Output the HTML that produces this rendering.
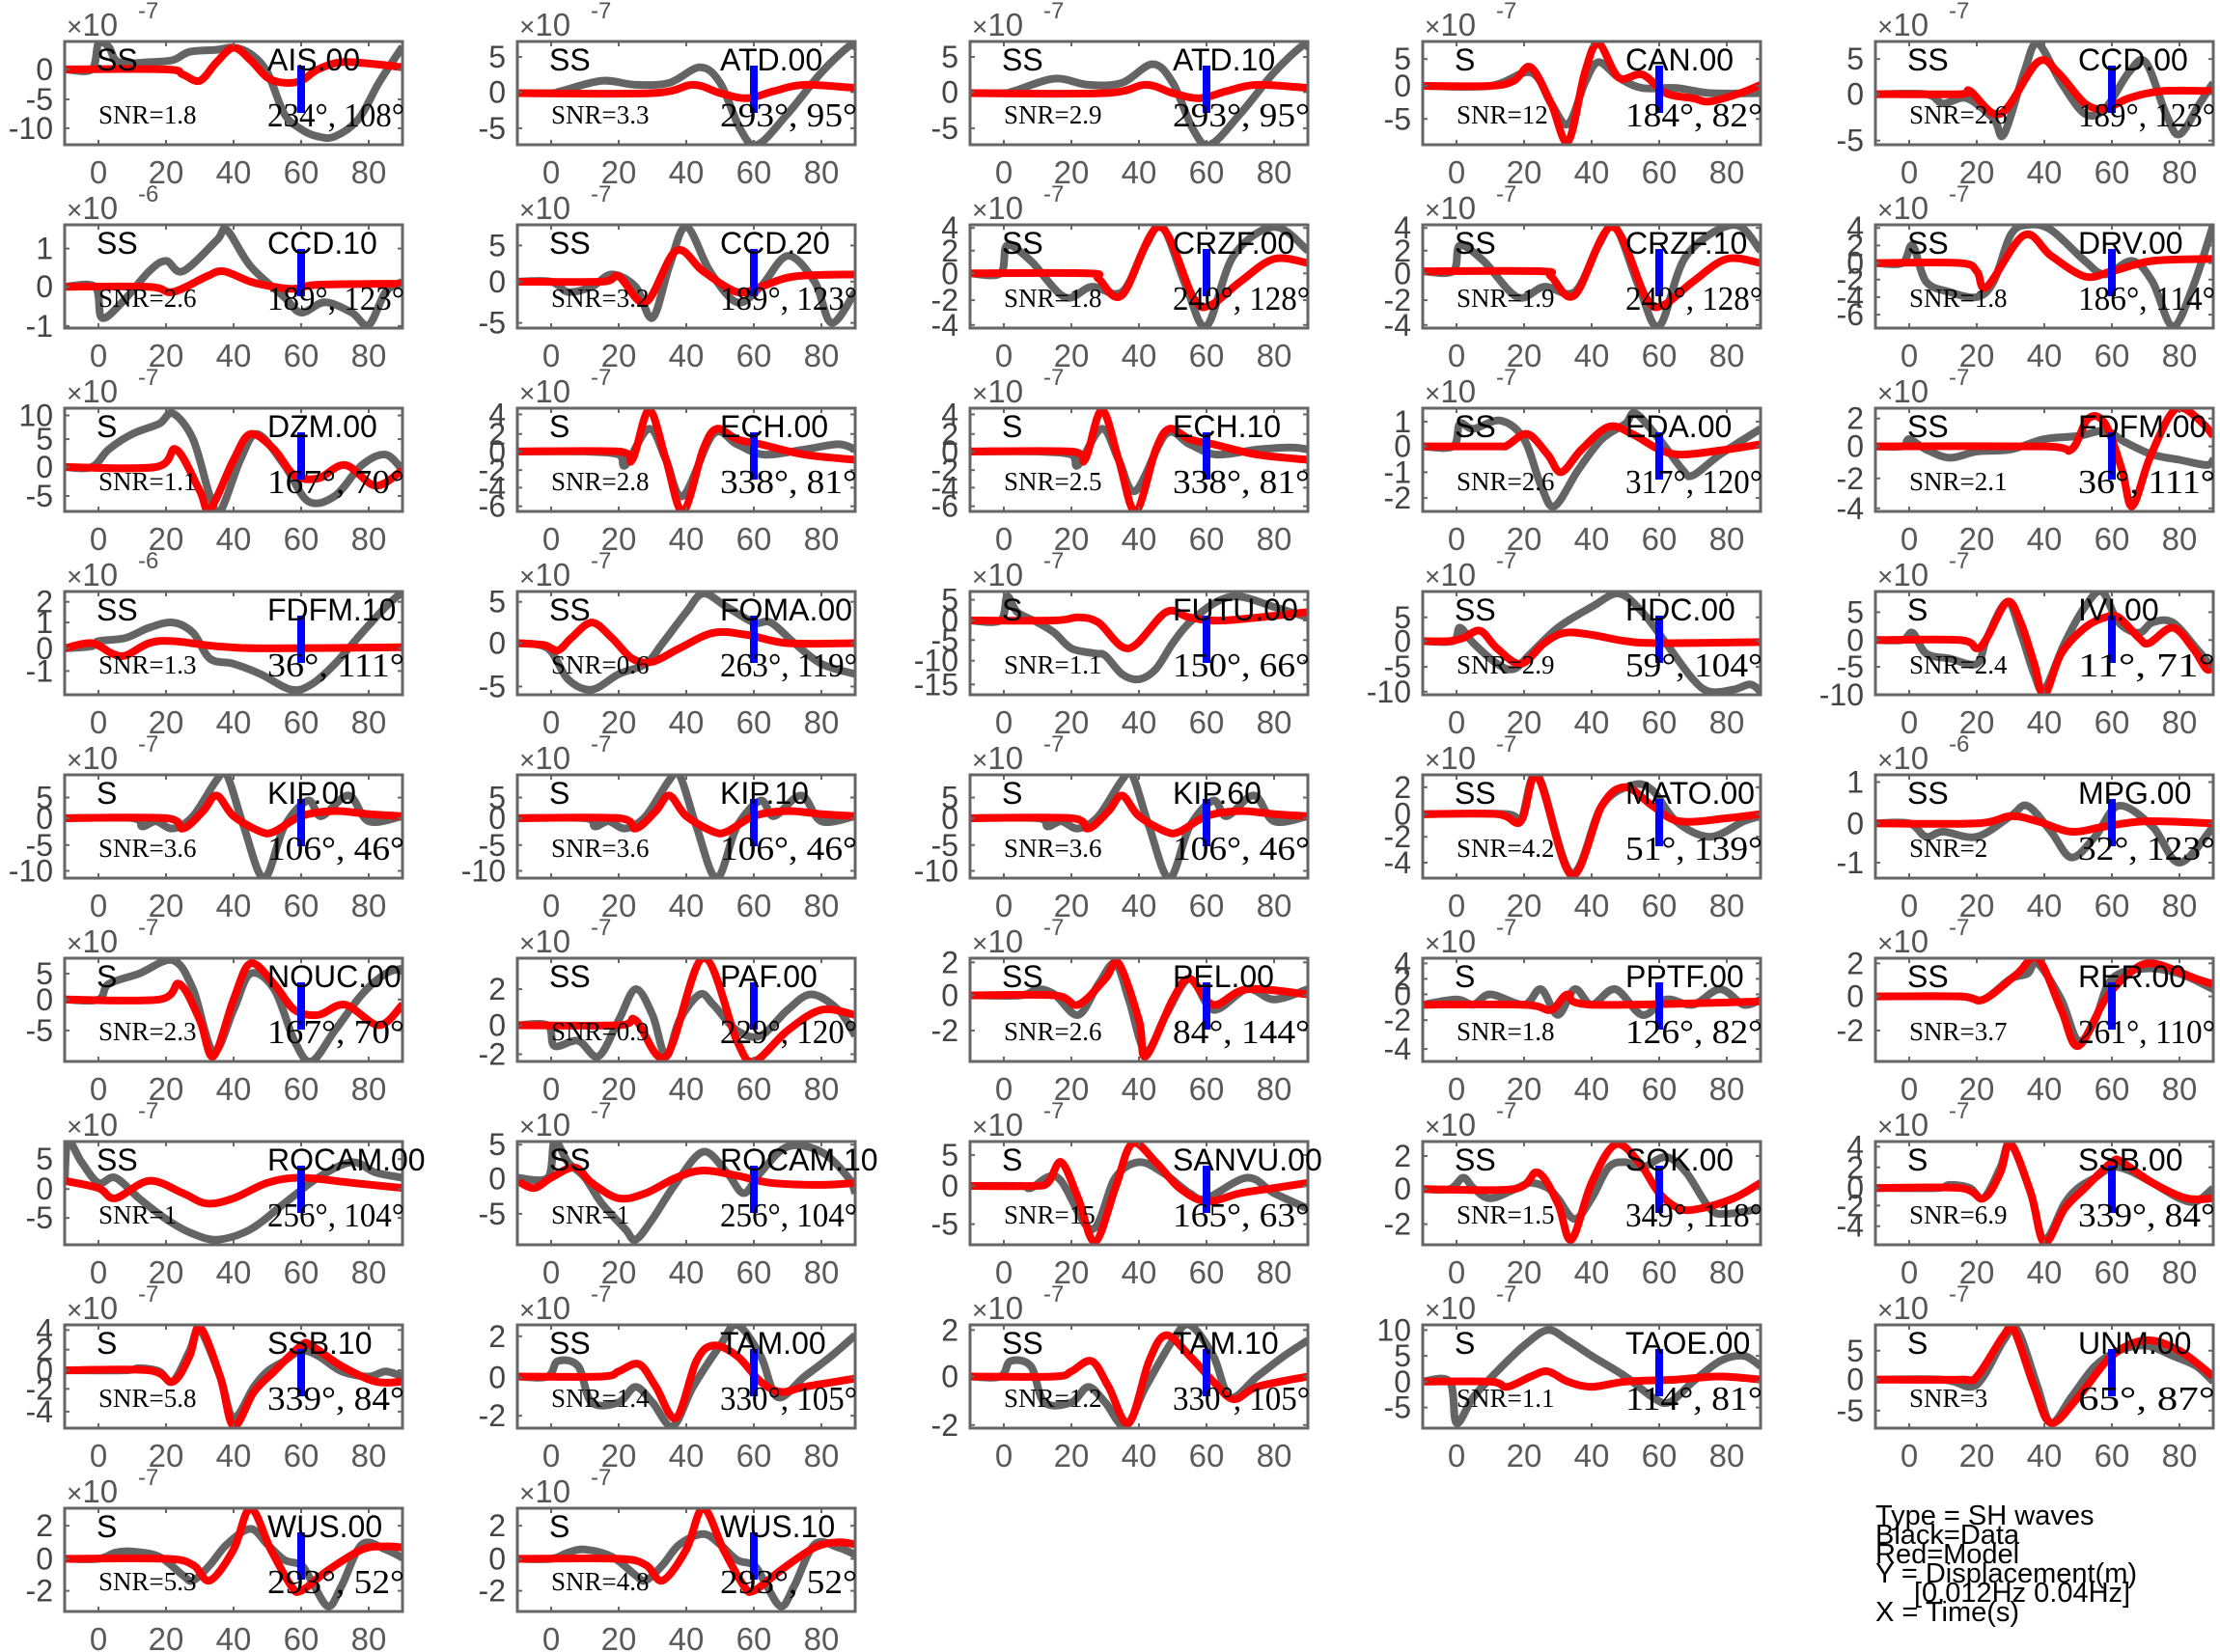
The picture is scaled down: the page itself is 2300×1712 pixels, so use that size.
<!DOCTYPE html>
<html><head><meta charset="utf-8">
<style>
html,body{margin:0;padding:0;background:#fff;}
svg{display:block;}
</style></head>
<body>
<svg id="s" xmlns="http://www.w3.org/2000/svg" width="2300" height="1712" viewBox="0 0 2300 1712"></svg>
<script>
var P=[
{n:'AIS.00',p:'SS',s:'1.8',a:'234°, 108°',e:'-7',yt:[['0',.27],['-5',.56],['-10',.84]],
d:[-10,.27,-2,.27,0,.02,3,.05,6,.2,15,.2,22,.18,27,.1,35,.08,40,.06,45,.12,50,.3,55,.7,60,.85,65,.92,70,.92,77,.75,83,.4,90,.05],
m:[-10,.27,20,.27,25,.32,30,.38,35,.2,40,.06,45,.18,50,.35,55,.4,60,.38,65,.27,72,.2,82,.22,90,.25]},
{n:'ATD.00',p:'SS',s:'3.3',a:'293°, 95°',e:'-7',yt:[['5',.15],['0',.49],['-5',.84]],
d:[-10,.5,0,.5,3,.48,15,.38,25,.42,35,.4,44,.25,50,.4,56,.85,61,1,70,.7,80,.3,88,.05,90,.05],
m:[-10,.5,30,.5,42,.42,50,.5,58,.55,66,.48,75,.42,90,.45]},
{n:'ATD.10',p:'SS',s:'2.9',a:'293°, 95°',e:'-7',yt:[['5',.15],['0',.49],['-5',.84]],
d:[-10,.5,0,.5,3,.48,15,.36,25,.42,35,.4,44,.22,50,.4,56,.85,61,1,70,.7,80,.3,88,.05,90,.05],
m:[-10,.5,30,.5,42,.42,50,.5,58,.55,66,.48,75,.42,90,.45]},
{n:'CAN.00',p:'S',s:'12',a:'184°, 82°',e:'-7',yt:[['5',.17],['0',.43],['-5',.75]],
d:[-10,.43,10,.43,22,.3,28,.6,33,.8,38,.4,42,.2,48,.35,55,.45,65,.45,75,.5,90,.5],
m:[-10,.43,10,.43,17,.38,22,.25,28,.6,33,.97,38,.3,42,.02,48,.35,55,.32,62,.5,70,.55,75,.58,84,.5,90,.42]},
{n:'CCD.00',p:'SS',s:'2.6',a:'189°, 123°',e:'-7',yt:[['5',.17],['0',.51],['-5',.96]],
d:[-10,.51,5,.51,10,.6,17,.55,25,.75,28,.9,34,.3,38,.02,45,.4,52,.7,58,.65,65,.3,70,.2,76,.7,80,.9,86,.6,90,.4],
m:[-10,.51,15,.51,18,.48,27,.7,38,.2,44,.3,52,.6,58,.65,65,.55,75,.48,90,.48]},

{n:'CCD.10',p:'SS',s:'2.6',a:'189°, 123°',e:'-6',yt:[['1',.23],['0',.6],['-1',.98]],
d:[-10,.6,-1,.6,1,.9,7,.75,15,.45,20,.35,25,.45,35,.15,38,.05,45,.4,55,.7,60,.85,67,.75,75,.85,80,.97,85,.65,90,.55],
m:[-10,.6,15,.6,22,.65,32,.5,37,.45,45,.55,52,.6,58,.62,65,.58,90,.57]},
{n:'CCD.20',p:'SS',s:'3.2',a:'189°, 123°',e:'-7',yt:[['5',.2],['0',.55],['-5',.95]],
d:[-10,.55,0,.55,5,.65,12,.6,18,.48,25,.6,30,.9,35,.4,40,.02,47,.45,55,.75,62,.6,70,.3,78,.55,83,.95,90,.65],
m:[-10,.55,15,.55,20,.5,28,.75,37,.25,45,.45,55,.65,62,.6,72,.5,90,.48]},
{n:'CRZF.00',p:'SS',s:'1.8',a:'240°, 128°',e:'-7',yt:[['4',.03],['2',.25],['0',.47],['-2',.73],['-4',.97]],
d:[-10,.47,-1,.47,1,.2,8,.35,18,.7,26,.6,35,.65,42,.2,47,.02,54,.6,60,.98,68,.3,80,.02,90,.25],
m:[-10,.47,25,.47,28,.52,35,.68,46,.02,56,.7,61,.78,70,.55,80,.33,90,.37]},
{n:'CRZF.10',p:'SS',s:'1.9',a:'240°, 128°',e:'-7',yt:[['4',.03],['2',.25],['0',.47],['-2',.73],['-4',.97]],
d:[-10,.45,-1,.45,1,.2,8,.35,18,.7,26,.6,35,.65,42,.2,47,.02,54,.6,60,.98,68,.3,82,.0,90,.25],
m:[-10,.45,25,.45,28,.5,35,.68,46,.02,56,.7,61,.78,70,.55,80,.33,90,.37]},
{n:'DRV.00',p:'SS',s:'1.8',a:'186°, 114°',e:'-7',yt:[['4',.03],['2',.2],['0',.37],['-2',.53],['-4',.7],['-6',.87]],
d:[-10,.37,-2,.37,1,.2,5,.55,12,.65,20,.7,25,.55,30,.1,35,0,42,.05,52,.35,58,.48,66,.35,72,.55,78,.98,84,.6,90,0],
m:[-10,.37,15,.37,20,.45,23,.6,34,.1,42,.3,52,.5,60,.45,72,.35,90,.33]},

{n:'DZM.00',p:'S',s:'1.1',a:'167°, 70°',e:'-7',yt:[['10',.07],['5',.3],['0',.57],['-5',.85]],
d:[-10,.57,-2,.57,3,.4,10,.25,18,.15,22,.05,28,.3,33,.85,36,1,42,.5,47,.25,55,.55,62,.9,70,.85,78,.55,85,.45,90,.6],
m:[-10,.57,17,.57,23,.4,30,.8,33,.98,40,.5,45,.25,52,.4,58,.65,65,.68,73,.55,82,.75,90,.6]},
{n:'ECH.00',p:'S',s:'2.8',a:'338°, 81°',e:'-7',yt:[['4',.06],['2',.25],['0',.42],['-2',.6],['-4',.77],['-6',.95]],
d:[-10,.42,10,.42,20,.45,22,.55,29,.2,34,.5,39,.85,48,.25,55,.35,63,.45,75,.4,85,.35,90,.4],
m:[-10,.42,20,.42,24,.5,29,.02,34,.5,39,1,45,.4,49,.2,55,.3,62,.35,75,.45,90,.5]},
{n:'ECH.10',p:'S',s:'2.5',a:'338°, 81°',e:'-7',yt:[['4',.06],['2',.25],['0',.42],['-2',.6],['-4',.77],['-6',.95]],
d:[-10,.42,10,.42,20,.45,22,.55,29,.2,34,.5,39,.8,48,.25,55,.35,63,.45,75,.4,85,.38,90,.4],
m:[-10,.42,20,.42,24,.5,29,.02,34,.5,39,1,45,.4,49,.2,55,.3,62,.35,75,.45,90,.5]},
{n:'EDA.00',p:'SS',s:'2.6',a:'317°, 120°',e:'-7',yt:[['1',.13],['0',.37],['-1',.62],['-2',.87]],
d:[-10,.37,-1,.37,1,.15,5,.2,13,.12,20,.3,25,.75,29,.95,36,.6,43,.3,50,.15,53,.05,60,.3,67,.6,70,.65,78,.45,90,.2],
m:[-10,.37,12,.37,15,.36,21,.25,27,.45,31,.62,37,.4,45,.18,52,.25,60,.4,67,.45,80,.4,90,.35]},
{n:'FDFM.00',p:'SS',s:'2.1',a:'36°, 111°',e:'-7',yt:[['2',.1],['0',.37],['-2',.68],['-4',.97]],
d:[-10,.37,-2,.37,0,.3,5,.4,12,.48,20,.42,30,.4,40,.3,50,.27,58,.22,64,.33,72,.45,80,.5,88,.55,90,.5],
m:[-10,.37,40,.37,48,.4,53,.1,58,.15,63,.6,66,.95,71,.5,77,.08,81,0,87,.15,90,.27]},

{n:'FDFM.10',p:'SS',s:'1.3',a:'36°, 111°',e:'-6',yt:[['2',.1],['1',.3],['0',.55],['-1',.77]],
d:[-10,.55,-2,.53,0,.48,8,.45,15,.35,22,.3,28,.4,33,.65,40,.7,48,.8,57,.95,63,.9,70,.7,78,.4,85,.15,90,0],
m:[-10,.55,-2,.5,4,.6,8,.62,15,.5,22,.48,35,.53,50,.55,90,.54]},
{n:'FOMA.00',p:'SS',s:'0.6',a:'263°, 119°',e:'-7',yt:[['5',.1],['0',.5],['-5',.92]],
d:[-10,.5,-1,.55,5,.85,12,.95,20,.8,28,.7,33,.5,40,.2,45,.02,52,.15,60,.3,65,.3,72,.5,80,.7,90,.8],
m:[-10,.5,-2,.52,2,.57,6,.45,12,.3,18,.45,24,.65,30,.68,38,.55,48,.4,58,.42,70,.5,90,.5]},
{n:'FUTU.00',p:'S',s:'1.1',a:'150°, 66°',e:'-7',yt:[['5',.08],['0',.28],['-5',.47],['-10',.67],['-15',.9]],
d:[-10,.28,-1,.28,1,.05,4,.2,10,.3,15,.4,20,.55,27,.6,30,.62,35,.8,40,.85,45,.75,50,.5,55,.3,63,.1,70,.05,80,.15,90,.25],
m:[-10,.28,15,.28,22,.25,28,.3,37,.55,48,.2,55,.25,65,.28,90,.2]},
{n:'HDC.00',p:'SS',s:'2.9',a:'59°, 104°',e:'-7',yt:[['5',.25],['0',.48],['-5',.73],['-10',.97]],
d:[-10,.48,-1,.48,1,.35,5,.5,12,.7,17,.75,22,.6,30,.35,40,.15,48,.02,55,.2,62,.5,70,.85,75,.97,82,.95,87,.9,90,.97],
m:[-10,.48,-2,.48,2,.45,7,.38,12,.55,19,.7,26,.5,32,.4,40,.42,50,.48,60,.5,90,.49]},
{n:'IVI.00',p:'S',s:'2.4',a:'11°, 71°',e:'-7',yt:[['5',.2],['0',.47],['-5',.73],['-10',1]],
d:[-10,.47,-2,.47,1,.4,5,.6,12,.65,20,.7,23,.45,29,.1,33,.4,37,.8,40,.95,46,.5,52,.15,57,0,62,.3,68,.4,72,.3,78,.3,85,.55,90,.75],
m:[-10,.47,15,.47,20,.55,23,.45,29,.1,33,.3,37,.7,40,1,45,.6,52,.35,58,.25,62,.25,68,.45,71,.5,78,.35,84,.55,88,.75,90,.72]},

{n:'KIP.00',p:'S',s:'3.6',a:'106°, 46°',e:'-7',yt:[['5',.22],['0',.42],['-5',.68],['-10',.93]],
d:[-10,.42,10,.42,13,.5,17,.45,22,.52,28,.4,35,.05,38,0,43,.5,49,1,55,.5,62,.25,66,.4,74,.2,80,.45,90,.4],
m:[-10,.42,20,.42,25,.52,31,.35,35,.2,40,.4,48,.55,52,.55,60,.4,70,.35,80,.38,90,.4]},
{n:'KIP.10',p:'S',s:'3.6',a:'106°, 46°',e:'-7',yt:[['5',.22],['0',.42],['-5',.68],['-10',.93]],
d:[-10,.42,10,.42,13,.5,17,.45,22,.52,28,.4,35,.05,38,0,43,.5,49,1,55,.5,62,.25,66,.4,74,.2,80,.45,90,.4],
m:[-10,.42,20,.42,25,.52,31,.35,35,.2,40,.4,48,.55,52,.55,60,.4,70,.35,80,.38,90,.4]},
{n:'KIP.60',p:'S',s:'3.6',a:'106°, 46°',e:'-7',yt:[['5',.22],['0',.42],['-5',.68],['-10',.93]],
d:[-10,.42,10,.42,13,.5,17,.45,22,.52,28,.4,35,.05,38,0,43,.5,49,1,55,.5,62,.25,66,.4,74,.2,80,.45,90,.4],
m:[-10,.42,20,.42,25,.52,31,.35,35,.2,40,.4,48,.55,52,.55,60,.4,70,.35,80,.38,90,.4]},
{n:'MATO.00',p:'SS',s:'4.2',a:'51°, 139°',e:'-7',yt:[['2',.12],['0',.38],['-2',.6],['-4',.85]],
d:[-10,.38,15,.38,19,.45,24,0,34,.95,43,.3,52,.1,58,.15,65,.45,75,.6,85,.45,90,.4],
m:[-10,.38,12,.38,19,.45,24,.02,34,.97,43,.3,50,.12,58,.3,66,.45,80,.42,90,.38]},
{n:'MPG.00',p:'SS',s:'2',a:'32°, 123°',e:'-6',yt:[['1',.07],['0',.47],['-1',.85]],
d:[-10,.47,0,.47,5,.6,10,.55,20,.6,30,.4,35,.3,42,.55,48,.8,55,.6,62,.3,72,.5,80,.85,90,.5],
m:[-10,.47,20,.47,30,.4,38,.45,48,.55,58,.5,70,.45,90,.47]},

{n:'NOUC.00',p:'S',s:'2.3',a:'167°, 70°',e:'-7',yt:[['5',.15],['0',.4],['-5',.7]],
d:[-10,.4,0,.4,3,.25,12,.15,22,.02,28,.3,34,.9,40,.5,45,.15,52,.3,58,.8,63,1,70,.7,78,.35,85,.15,90,.1],
m:[-10,.4,18,.4,24,.25,30,.6,34,.95,40,.4,45,.05,52,.25,58,.5,65,.55,73,.45,83,.65,90,.45]},
{n:'PAF.00',p:'SS',s:'0.9',a:'229°, 120°',e:'-7',yt:[['2',.3],['0',.65],['-2',.93]],
d:[-10,.65,-1,.65,1,.85,8,.8,14,.95,20,.6,25,.3,30,.55,34,.95,38,.6,44,.35,48,.45,55,.7,62,.75,70,.5,77,.35,85,.5,90,.75],
m:[-10,.65,20,.65,25,.6,34,.95,45,0,55,.8,60,1,70,.7,80,.5,90,.55]},
{n:'PEL.00',p:'SS',s:'2.6',a:'84°, 144°',e:'-7',yt:[['2',.04],['0',.36],['-2',.7]],
d:[-10,.36,5,.36,10,.3,15,.35,22,.55,28,.25,33,.05,37,.4,42,.9,48,.55,55,.2,62,.5,72,.3,80,.4,90,.3],
m:[-10,.36,15,.36,22,.45,30,.2,34,.05,40,.6,42,.95,50,.4,55,.2,62,.45,72,.3,90,.35]},
{n:'PPTF.00',p:'S',s:'1.8',a:'126°, 82°',e:'-7',yt:[['4',.05],['2',.2],['0',.35],['-2',.6],['-4',.88]],
d:[-10,.45,0,.4,5,.45,10,.35,20,.45,25,.3,30,.55,35,.3,40,.45,47,.3,55,.55,62,.4,70,.45,78,.3,85,.45,90,.4],
m:[-10,.45,20,.45,28,.5,33,.35,40,.45,90,.42]},
{n:'RER.00',p:'SS',s:'3.7',a:'261°, 110°',e:'-7',yt:[['2',.05],['0',.37],['-2',.7]],
d:[-10,.37,15,.37,22,.4,30,.2,35,.15,38,.05,45,.4,50,.8,55,.6,60,.2,70,.1,80,.15,90,.3],
m:[-10,.37,15,.37,22,.4,32,.15,38,0,45,.5,50,.85,58,.4,65,.15,72,.05,85,.2,90,.25]},

{n:'ROCAM.00',p:'SS',s:'1',a:'256°, 104°',e:'-7',yt:[['5',.17],['0',.46],['-5',.74]],
d:[-10,.4,-9,.0,-5,.2,0,.4,5,.35,12,.55,20,.75,27,.88,35,.95,45,.85,55,.6,65,.35,75,.2,82,.3,90,.35],
m:[-10,.38,0,.45,5,.55,15,.38,25,.5,32,.6,40,.55,50,.4,60,.35,75,.4,90,.45]},
{n:'ROCAM.10',p:'SS',s:'1',a:'256°, 104°',e:'-7',yt:[['5',.03],['0',.36],['-5',.7]],
d:[-10,.35,-1,.35,1,0,5,.2,10,.35,15,.6,22,.85,25,.95,30,.75,37,.4,45,.1,52,.3,57,.5,62,.3,70,.05,80,.1,88,.35,90,.5],
m:[-10,.38,-5,.45,0,.35,7,.25,12,.4,20,.55,28,.5,37,.35,45,.28,55,.33,65,.4,80,.42,90,.4]},
{n:'SANVU.00',p:'S',s:'15',a:'165°, 63°',e:'-7',yt:[['5',.13],['0',.43],['-5',.8]],
d:[-10,.43,5,.43,8,.45,16,.35,26,.85,33,.35,40,.2,47,.3,55,.5,60,.55,72,.35,80,.5,90,.65],
m:[-10,.43,8,.43,13,.4,17,.2,22,.55,27,.97,33,.45,38,.02,45,.2,52,.45,60,.58,70,.5,80,.45,90,.4]},
{n:'SOK.00',p:'SS',s:'1.5',a:'349°, 118°',e:'-7',yt:[['2',.14],['0',.46],['-2',.8]],
d:[-10,.46,-2,.46,2,.35,5,.45,10,.55,18,.45,22,.4,27,.45,30,.55,35,.75,40,.55,45,.25,50,.2,55,.25,62,.15,68,.3,75,.65,80,.7,90,.65],
m:[-10,.46,17,.46,24,.3,30,.6,34,.95,40,.4,47,.03,54,.2,60,.5,66,.65,72,.65,82,.55,90,.4]},
{n:'SSB.00',p:'S',s:'6.9',a:'339°, 84°',e:'-7',yt:[['4',.05],['2',.25],['0',.45],['-2',.62],['-4',.82]],
d:[-10,.45,8,.45,12,.42,18,.45,22,.55,27,.25,30,.02,36,.5,40,.95,46,.6,50,.45,55,.35,60,.25,65,.28,72,.4,80,.55,85,.58,90,.45],
m:[-10,.45,15,.45,22,.55,27,.3,30,.02,36,.5,40,.98,46,.65,52,.45,60,.2,63,.2,72,.4,82,.55,90,.55]},

{n:'SSB.10',p:'S',s:'5.8',a:'339°, 84°',e:'-7',yt:[['4',.05],['2',.24],['0',.44],['-2',.62],['-4',.84]],
d:[-10,.44,8,.44,12,.42,18,.45,22,.55,27,.25,30,.05,36,.5,40,.9,46,.6,50,.45,55,.35,60,.25,65,.3,72,.45,80,.5,85,.45,90,.5],
m:[-10,.44,15,.44,22,.55,27,.3,30,.02,36,.5,40,.98,46,.65,52,.45,60,.2,63,.2,72,.4,82,.55,90,.55]},
{n:'TAM.00',p:'SS',s:'1.4',a:'330°, 105°',e:'-7',yt:[['2',.11],['0',.51],['-2',.88]],
d:[-10,.5,-1,.5,2,.35,8,.4,12,.75,20,.75,25,.6,30,.75,36,.98,42,.6,50,.2,55,0,62,.3,67,.7,75,.5,83,.3,90,.1],
m:[-10,.5,15,.5,20,.45,26,.38,31,.6,37,.9,43,.35,48,.2,55,.3,62,.55,68,.65,75,.6,90,.52]},
{n:'TAM.10',p:'SS',s:'1.2',a:'330°, 105°',e:'-7',yt:[['2',.05],['0',.5],['-2',.97]],
d:[-10,.5,-1,.5,2,.35,8,.4,12,.75,20,.75,25,.6,30,.75,36,.98,42,.6,50,.15,55,0,62,.3,67,.7,75,.5,83,.3,90,.15],
m:[-10,.5,15,.5,20,.45,26,.35,31,.6,37,.95,43,.35,48,.1,55,.3,62,.55,68,.72,75,.6,90,.5]},
{n:'TAOE.00',p:'S',s:'1.1',a:'114°, 81°',e:'-7',yt:[['10',.05],['5',.3],['0',.55],['-5',.8]],
d:[-10,.55,-2,.55,0,.95,5,.7,12,.45,20,.2,27,.05,33,.15,40,.3,50,.5,58,.7,63,.75,70,.55,78,.35,85,.3,90,.4],
m:[-10,.55,10,.55,15,.6,22,.5,27,.45,33,.55,40,.6,50,.55,65,.53,78,.5,90,.53]},
{n:'UNM.00',p:'S',s:'3',a:'65°, 87°',e:'-7',yt:[['5',.25],['0',.53],['-5',.83]],
d:[-10,.53,10,.53,18,.6,22,.5,28,.15,32,.05,38,.6,42,.95,48,.7,55,.4,62,.25,70,.2,78,.3,85,.4,90,.55],
m:[-10,.53,15,.53,20,.5,28,.1,31,.05,37,.6,42,.95,50,.7,60,.3,70,.15,80,.25,90,.5]},

{n:'WUS.00',p:'S',s:'5.3',a:'293°, 52°',e:'-7',yt:[['2',.17],['0',.49],['-2',.8]],
d:[-10,.49,0,.49,5,.43,10,.42,18,.47,25,.65,28,.7,33,.55,38,.35,45,.2,50,.35,55,.5,60,.55,63,.7,68,.95,72,.75,78,.35,85,.4,90,.48],
m:[-10,.49,20,.49,28,.55,33,.7,40,.4,45,0,51,.4,57,.75,60,.8,68,.6,78,.4,85,.37,90,.38]},
{n:'WUS.10',p:'S',s:'4.8',a:'293°, 52°',e:'-7',yt:[['2',.17],['0',.49],['-2',.8]],
d:[-10,.49,0,.49,5,.43,10,.4,18,.47,25,.65,28,.7,33,.55,38,.35,45,.25,50,.35,55,.5,60,.55,63,.7,68,.95,72,.75,78,.35,85,.38,90,.45],
m:[-10,.49,20,.49,28,.55,33,.7,40,.4,45,0,51,.4,57,.75,60,.8,68,.6,78,.38,85,.33,90,.35]}
];
var svg=document.getElementById('s');
var html='';
var W=350,H=107;
var LEFTS=[67,536,1005,1474,1943];
function path(arr,L,T){
  var pts=[];
  for(var i=0;i<arr.length;i+=2){pts.push([L+(arr[i]+10)*3.5,T+arr[i+1]*H]);}
  var d='M'+pts[0][0].toFixed(1)+','+pts[0][1].toFixed(1);
  for(var i=0;i<pts.length-1;i++){
    var p0=pts[Math.max(0,i-1)],p1=pts[i],p2=pts[i+1],p3=pts[Math.min(pts.length-1,i+2)];
    var c1x=p1[0]+(p2[0]-p0[0])/6,c1y=p1[1]+(p2[1]-p0[1])/6;
    var c2x=p2[0]-(p3[0]-p1[0])/6,c2y=p2[1]-(p3[1]-p1[1])/6;
    d+=' C'+c1x.toFixed(1)+','+c1y.toFixed(1)+' '+c2x.toFixed(1)+','+c2y.toFixed(1)+' '+p2[0].toFixed(1)+','+p2[1].toFixed(1);
  }
  return d;
}
var defs='';
P.forEach(function(o,k){
  var r=Math.floor(k/5),c=k%5;
  var L=LEFTS[c],T=43+r*190;
  defs+='<clipPath id="c'+k+'"><rect x="'+L+'" y="'+T+'" width="'+W+'" height="'+H+'"/></clipPath>';
  var g='';
  g+='<g clip-path="url(#c'+k+')"><path d="'+path(o.d,L,T)+'" fill="none" stroke="#646464" stroke-width="8" stroke-linejoin="round"/>';
  g+='<path d="'+path(o.m,L,T)+'" fill="none" stroke="#ff0000" stroke-width="8" stroke-linejoin="round"/></g>';
  g+='<rect x="'+(L+245-4)+'" y="'+(T+25)+'" width="8" height="49" fill="#0000ff"/>';
  g+='<rect x="'+L+'" y="'+T+'" width="'+W+'" height="'+H+'" fill="none" stroke="#666" stroke-width="3"/>';
  for(var t=0;t<=80;t+=20){var x=L+(t+10)*3.5;
    g+='<line x1="'+x+'" y1="'+(T+H)+'" x2="'+x+'" y2="'+(T+H-5)+'" stroke="#666" stroke-width="2"/>';
    g+='<line x1="'+x+'" y1="'+T+'" x2="'+x+'" y2="'+(T+5)+'" stroke="#666" stroke-width="2"/>';
    g+='<text x="'+x+'" y="'+(T+H+40)+'" text-anchor="middle" font-size="33" fill="#5a5a5a">'+t+'</text>';}
  o.yt.forEach(function(q){var y=T+q[1]*H;
    g+='<line x1="'+L+'" y1="'+y+'" x2="'+(L+5)+'" y2="'+y+'" stroke="#666" stroke-width="2"/>';
    g+='<line x1="'+(L+W)+'" y1="'+y+'" x2="'+(L+W-5)+'" y2="'+y+'" stroke="#666" stroke-width="2"/>';
    g+='<text x="'+(L-12)+'" y="'+(y+11)+'" text-anchor="end" font-size="32" fill="#444">'+q[0]+'</text>';});
  g+='<text x="'+(L+2)+'" y="'+(T-6)+'" font-size="33" fill="#555"><tspan font-size="28">×</tspan>10</text>';
  g+='<text x="'+(L+76)+'" y="'+(T-24)+'" font-size="24" fill="#555">'+o.e+'</text>';
  g+='<text x="'+(L+33)+'" y="'+(T+30)+'" font-size="32" fill="#000">'+o.p+'</text>';
  g+='<text x="'+(L+210)+'" y="'+(T+30)+'" font-size="32" fill="#000">'+o.n+'</text>';
  g+='<text x="'+(L+35)+'" y="'+(T+85)+'" font-size="27" fill="#000" font-family="Liberation Serif,serif">SNR='+o.s+'</text>';
  g+='<text x="'+(L+210)+'" y="'+(T+88)+'" font-size="35" fill="#000" font-family="Liberation Serif,serif" textLength="142" lengthAdjust="spacingAndGlyphs">'+o.a+'</text>';
  html+=g;
});
var lg='<g font-size="29" fill="#000">'+
'<text x="1943" y="1580">Type = SH waves</text>'+
'<text x="1943" y="1600">Black=Data</text>'+
'<text x="1943" y="1620">Red=Model</text>'+
'<text x="1943" y="1640">Y = Displacement(m)</text>'+
'<text x="1983" y="1660">[0.012Hz 0.04Hz]</text>'+
'<text x="1943" y="1680">X = Time(s)</text></g>';
svg.innerHTML='<defs>'+defs+'</defs><g font-family="Liberation Sans,sans-serif">'+html+lg+'</g>';
</script>
</body></html>
